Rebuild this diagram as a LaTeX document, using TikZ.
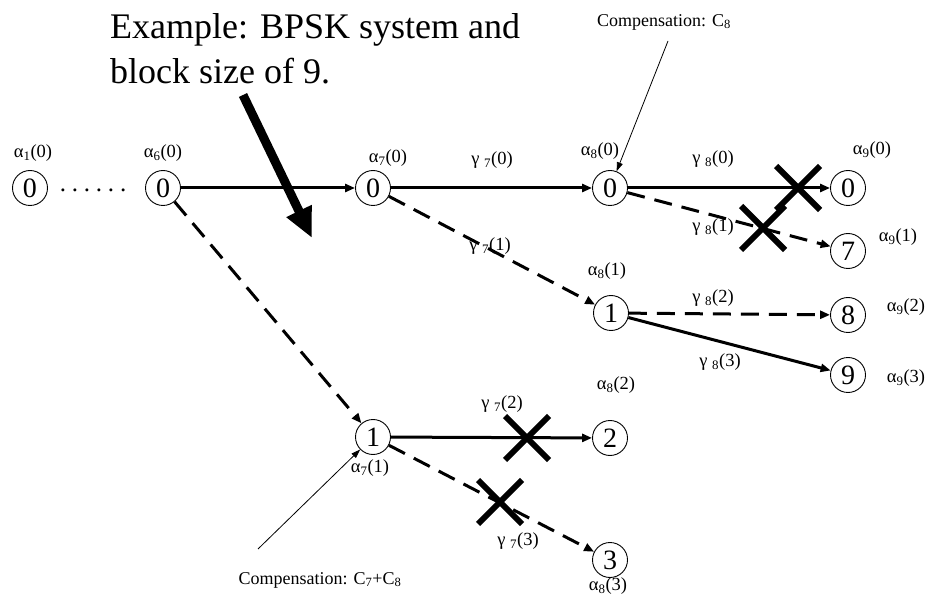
\documentclass[tikz,border=0pt]{standalone}
\usepackage{fontspec}
\setmainfont{Liberation Serif}
\usetikzlibrary{arrows.meta}
\begin{document}
\begin{tikzpicture}[x=1pt,y=-1pt,
  st/.style={circle,draw,line width=0.9pt,minimum size=35pt,inner sep=0pt,font=\fontsize{28}{28}\selectfont},
  lbl/.style={inner sep=0pt,font=\fontsize{18.5}{18.5}\selectfont},
  comp/.style={inner sep=0pt,font=\fontsize{18}{18}\selectfont},
  solidedge/.style={line width=3pt,-{Triangle[length=10pt,width=8pt]}},
  dashedge/.style={line width=3pt,dash pattern=on 18pt off 10pt,-{Triangle[length=10pt,width=8pt]}},
  thinarrow/.style={line width=0.8pt,-{Triangle[length=9pt,width=6pt]}},
  crossline/.style={line width=6pt}]
\useasboundingbox (0,0) rectangle (932,612);
% title
\node[inner sep=0pt,anchor=north west,align=left,font=\fontsize{36}{45}\selectfont] (title) at (110,13) {Example: BPSK system and\\block size of 9.};
% states
\node[st] (n1) at (30,188) {0};
\node[st] (n6) at (163,188) {0};
\node[st] (n7a) at (373,188) {0};
\node[st] (n8a) at (610,188) {0};
\node[st] (n9a) at (848,188) {0};
\node[st] (n9b) at (848,251) {7};
\node[st] (n8b) at (611,313) {1};
\node[st] (n9c) at (848,315) {8};
\node[st] (n9d) at (848,375) {9};
\node[st] (n7b) at (373,437) {1};
\node[st] (n8c) at (610,438) {2};
\node[st] (n8d) at (610,560) {3};
\node[inner sep=0pt,font=\fontsize{25}{25}\selectfont] (dots) at (93,190) {.\hspace{5.8pt}.\hspace{5.8pt}.\hspace{5.8pt}.\hspace{5.8pt}.\hspace{5.8pt}.};
% alpha labels
\node[lbl] (a10) at (33,153) {α\textsubscript{1}(0)};
\node[lbl] (a60) at (163,153) {α\textsubscript{6}(0)};
\node[lbl] (a70) at (388,158) {α\textsubscript{7}(0)};
\node[lbl] (a80) at (600,151) {α\textsubscript{8}(0)};
\node[lbl] (a90) at (872,150) {α\textsubscript{9}(0)};
\node[lbl] (a91) at (898,237) {α\textsubscript{9}(1)};
\node[lbl] (a81) at (607,271) {α\textsubscript{8}(1)};
\node[lbl] (a92) at (906,307) {α\textsubscript{9}(2)};
\node[lbl] (a93) at (906,378) {α\textsubscript{9}(3)};
\node[lbl] (a82) at (616,385) {α\textsubscript{8}(2)};
\node[lbl] (a71) at (370,468) {α\textsubscript{7}(1)};
\node[lbl] (a83) at (608,586) {α\textsubscript{8}(3)};
% gamma labels
\node[lbl] (g70) at (492,160) {γ \textsubscript{7}(0)};
\node[lbl] (g71) at (490,246) {γ \textsubscript{7}(1)};
\node[lbl] (g80) at (713,159) {γ \textsubscript{8}(0)};
\node[lbl] (g81) at (713,227) {γ \textsubscript{8}(1)};
\node[lbl] (g82) at (713,298) {γ \textsubscript{8}(2)};
\node[lbl] (g83) at (720,362) {γ \textsubscript{8}(3)};
\node[lbl] (g72) at (502,404) {γ \textsubscript{7}(2)};
\node[lbl] (g73) at (518,541) {γ \textsubscript{7}(3)};
% edges
\draw[solidedge] (n6) -- (n7a);
\draw[dashedge] (n6) -- (n7b);
\draw[solidedge] (n7a) -- (n8a);
\draw[dashedge] (n7a) -- (n8b);
\draw[solidedge] (n8a) -- (n9a);
\draw[dashedge] (n8a) -- (n9b);
\draw[dashedge] (n8b) -- (n9c);
\draw[solidedge] (n8b) -- (n9d);
\draw[solidedge] (n7b) -- (n8c);
\draw[dashedge] (n7b) -- (n8d);
% crosses
\foreach \cx/\cy in {798/188, 763/228, 527/438, 500/502}{
  \draw[crossline] (\cx-22,\cy-22) -- (\cx+22,\cy+22);
  \draw[crossline] (\cx-22,\cy+22) -- (\cx+22,\cy-22);
}
% big arrow
\coordinate (bigtail) at (243,95);
\coordinate (bighead) at (312,238);
\draw[line width=9pt,-{Triangle[length=30pt,width=26pt]}] (bigtail) -- (bighead);
% compensation notes
\node[comp] (c8) at (664,22) {Compensation: C\textsubscript{8}};
\coordinate (c8tail) at (668,41);
\draw[thinarrow] (c8tail) -- (n8a);
\node[comp] (c78) at (320,580) {Compensation: C\textsubscript{7}+C\textsubscript{8}};
\coordinate (c78tail) at (258,549);
\draw[thinarrow] (c78tail) -- (n7b);
\end{tikzpicture}
\end{document}
